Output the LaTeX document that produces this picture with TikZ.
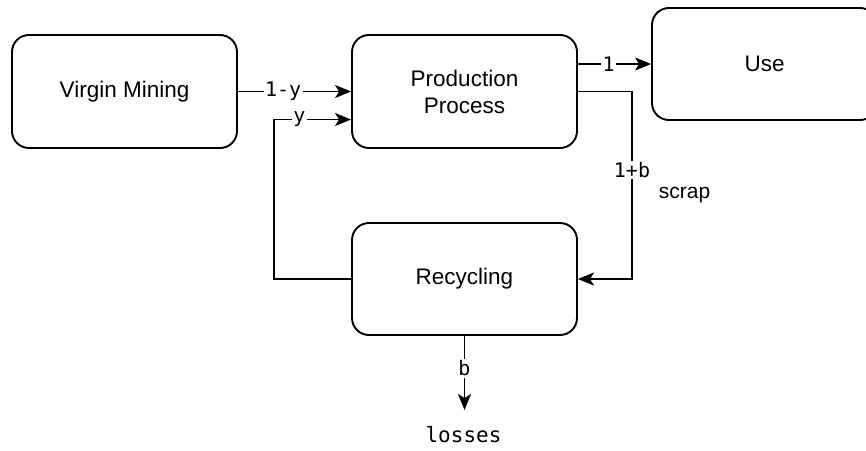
\documentclass[tikz,border=0pt]{standalone}
\usepackage{fontspec}
\setmainfont{Liberation Sans}
\newfontfamily\flowmono{DejaVu Sans Mono}
\usetikzlibrary{arrows.meta}

\tikzset{
  stage/.style={draw, line width=1.9pt, rounded corners=17pt, fill=white,
    minimum width=225pt, inner sep=0pt, align=center,
    font=\fontsize{22.5}{27}\selectfont},
  flow/.style={draw, line width=1.9pt,
    -{Stealth[length=16pt, width=13pt, inset=4pt]}},
  flowlabel/.style={fill=white, inner sep=1.5pt,
    font=\flowmono\fontsize{20}{24}\selectfont},
  note/.style={inner sep=0pt, font=\fontsize{21}{25}\selectfont}
}

\begin{document}
\begin{tikzpicture}[x=1pt, y=-1pt]
  \useasboundingbox (0,0) rectangle (866,450);

  % process stages
  \node[stage, minimum height=113pt] (mine) at (124.5,91.5) {Virgin Mining};
  \node[stage, minimum height=113pt] (prod) at (464.5,91.5) {Production\\Process};
  \node[stage, minimum height=112pt] (use)  at (764.5,64)   {Use};
  \node[stage, minimum height=112pt] (recy) at (464.5,279)  {Recycling};

  % bends of the routed connectors
  \coordinate (loopc) at (274,119.5);
  \coordinate (scrapc) at (632,91.5);
  \coordinate (lossend) at (464.5,410);

  % material flows
  \draw[flow] (mine.east) -- node[flowlabel, pos=0.4] {1-y} (prod.west);
  \draw[flow] (recy.west) -| (loopc)
      -- node[flowlabel, pos=0.33] {y} ([yshift=-28pt]prod.west);
  \draw[flow] (prod.east |- use.west) -- node[flowlabel, pos=0.42] {1} (use.west);
  \draw[flow] (prod.east) -- (scrapc)
      |- node[flowlabel, pos=0.21] {1+b} (recy.east);
  \draw[flow] (recy.south) -- node[flowlabel, pos=0.44] {b} (lossend);

  % free-standing texts
  \node[note] (scraptext) at (684.5,195) {scrap};
  \node[inner sep=0pt, font=\flowmono\fontsize{21}{25}\selectfont]
      (losstext) at (463.5,435) {losses};
\end{tikzpicture}
\end{document}
